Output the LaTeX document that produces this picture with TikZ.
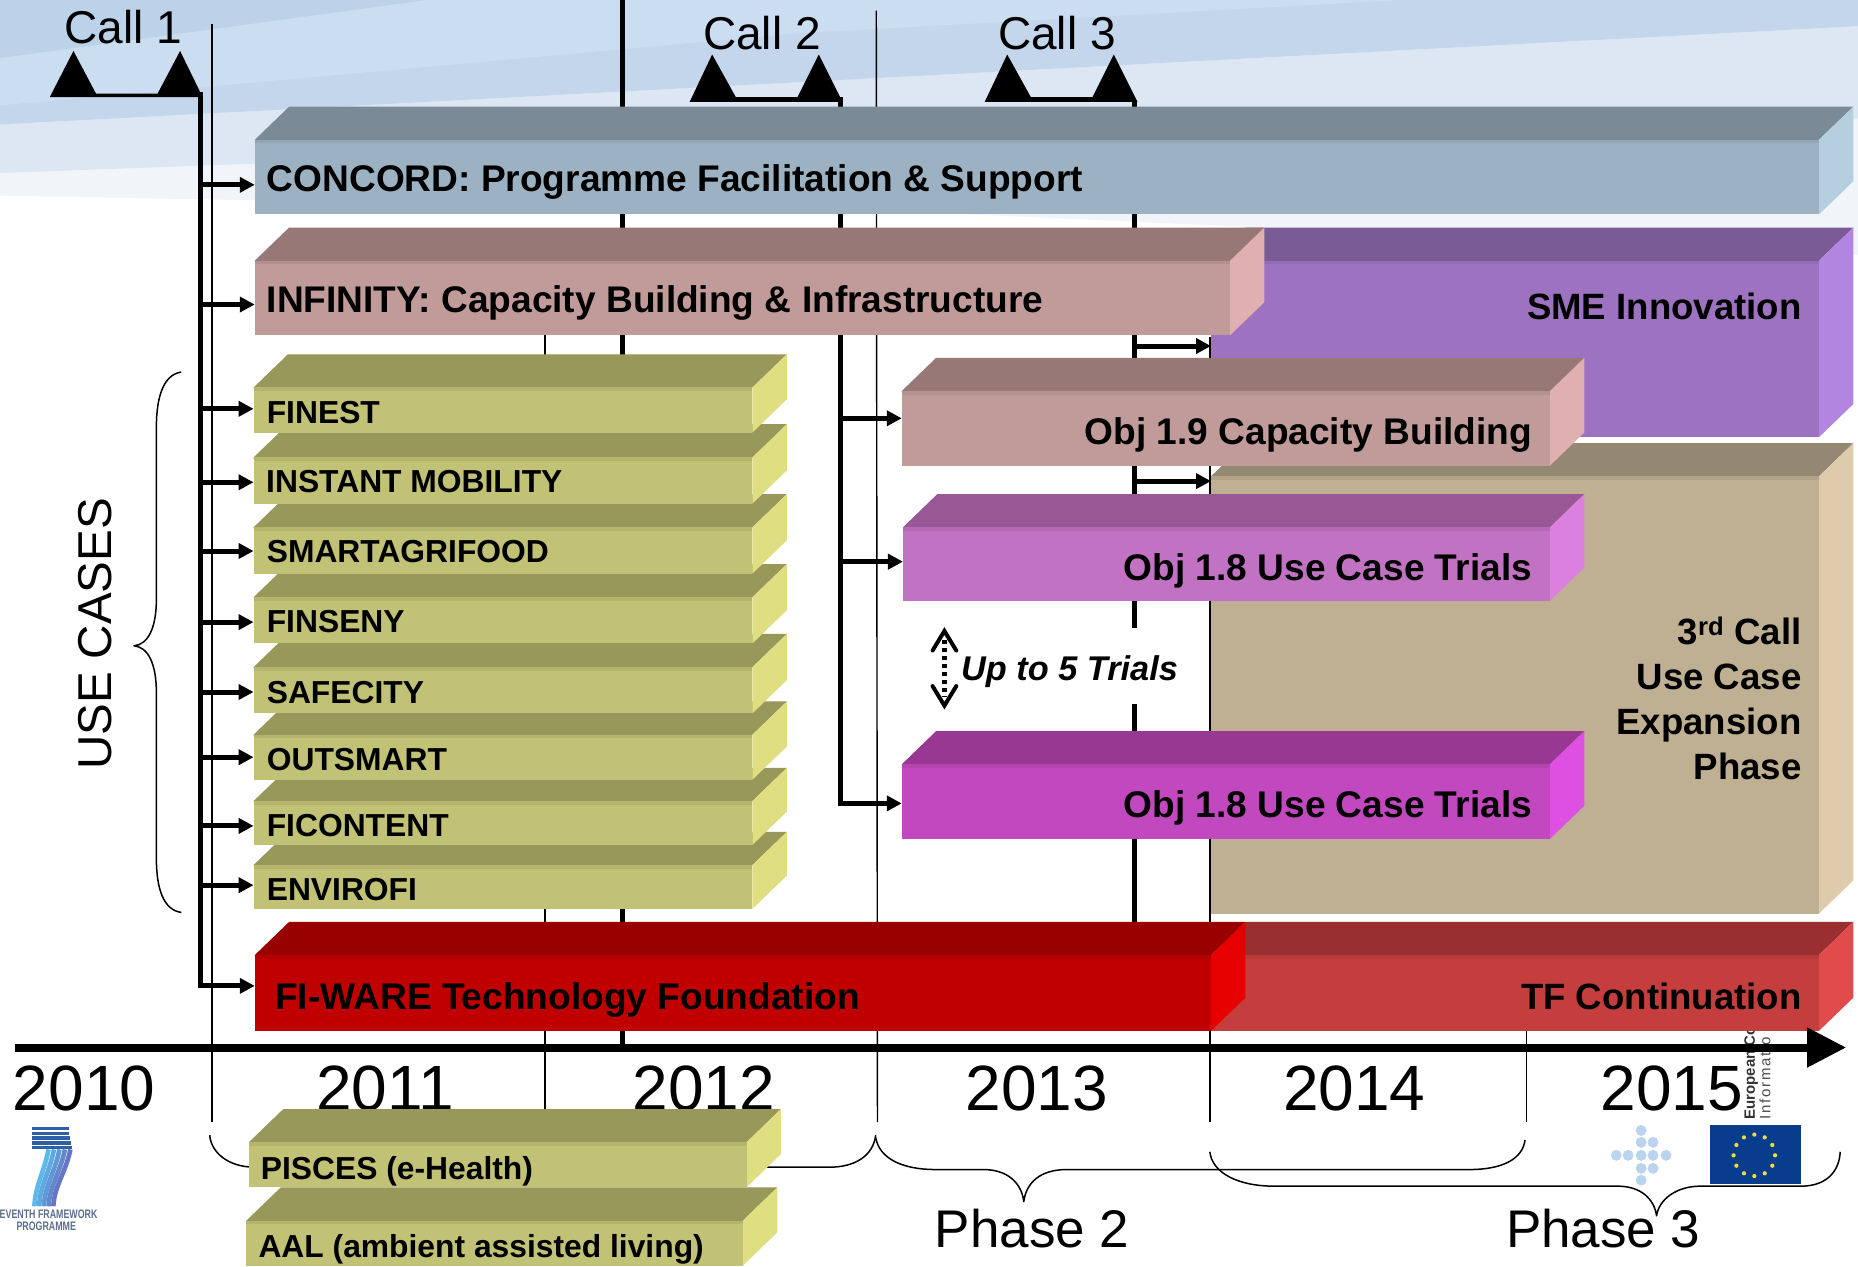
\documentclass[tikz,border=0pt]{standalone}
\usepackage{fontspec}
\setmainfont{Liberation Sans}
\usetikzlibrary{arrows.meta,fit,calc}
\definecolor{concF}{HTML}{9CB2C3}\definecolor{concT}{HTML}{7A8B97}\definecolor{concS}{HTML}{B5CFDF}
\definecolor{infF}{HTML}{C19B9A}\definecolor{infT}{HTML}{977877}\definecolor{infS}{HTML}{DFB0AF}
\definecolor{smeF}{HTML}{9D73C1}\definecolor{smeT}{HTML}{7A5B96}\definecolor{smeS}{HTML}{B285E0}
\definecolor{tanF}{HTML}{BFAF93}\definecolor{tanT}{HTML}{958872}\definecolor{tanS}{HTML}{DDCBAC}
\definecolor{taF}{HTML}{C272C3}\definecolor{taT}{HTML}{985895}\definecolor{taS}{HTML}{DC80E0}
\definecolor{tbF}{HTML}{C148BE}\definecolor{tbT}{HTML}{983892}\definecolor{tbS}{HTML}{DD50E2}
\definecolor{oliveF}{HTML}{C2C276}\definecolor{oliveT}{HTML}{98985A}\definecolor{oliveS}{HTML}{DFDF82}
\definecolor{fiF}{HTML}{C00000}\definecolor{fiT}{HTML}{990000}\definecolor{fiS}{HTML}{E60000}
\definecolor{tfF}{HTML}{C43E3E}\definecolor{tfT}{HTML}{9A2F2F}\definecolor{tfS}{HTML}{E24B4B}
\definecolor{fpdark}{HTML}{2F5FA8}
\definecolor{fptext}{HTML}{5C6E8E}
\newcommand{\solidbar}[6]{%
  \fill[#6T] (#2,#3+0.8) -- (#2,#3) -- (#2+29,#3-28) -- (#4+29,#3-28) -- (#4,#3) -- (#4,#3+0.8) -- cycle;
  \fill[#6S] (#4,#3) -- (#4+29,#3-28) -- (#4+29,#5-28) -- (#4,#5) -- cycle;
  \node[inner sep=0,outer sep=0,fill=#6F,fit={(#2,#3)(#4,#5)}] (#1) {};
  \fill[#6F!70!#6T] (#2,#3) rectangle (#4,#3+3);
}
\tikzset{
  thinl/.style={line width=1.4pt,black},
  thickl/.style={line width=5pt,black},
  arr/.style={line width=5pt,black,-{Triangle[length=15pt,width=15pt]}},
  brace/.style={line width=1.5pt,black,line join=round},
  big/.style={anchor=base west,inner sep=0,font=\fontsize{37.1}{40}\selectfont\bfseries},
  bigr/.style={anchor=base east,inner sep=0,font=\fontsize{36.6}{40}\selectfont\bfseries},
  objr/.style={anchor=base east,inner sep=0,font=\fontsize{37.1}{40}\selectfont\bfseries},
  olive/.style={anchor=base west,inner sep=0,font=\fontsize{31.8}{36}\selectfont\bfseries},
  callt/.style={anchor=base,inner sep=0,font=\fontsize{46}{50}\selectfont},
  year/.style={anchor=base,inner sep=0,font=\fontsize{64}{68}\selectfont},
  phaset/.style={anchor=base,inner sep=0,font=\fontsize{53}{56}\selectfont},
  fpt/.style={inner sep=0,font=\fontsize{9.5}{10}\selectfont\bfseries,text=fptext,yscale=1.3,xscale=.93,transform shape},
}
\begin{document}
\begin{tikzpicture}[x=1.18495pt,y=-1.18495pt]
\useasboundingbox (0,0) rectangle (1568,1069);
% sky
\fill[white] (0,0) rectangle (1568,1069);
\fill[color={rgb,255:red,241;green,245;blue,250}] (0,0) -- (1568,0) -- (1568,215) -- (800,180) -- (0,165) -- cycle;
\fill[color={rgb,255:red,221;green,231;blue,244}] (0,0) -- (1568,0) -- (1568,100) -- (300,135) -- (0,146) -- cycle;
\fill[color={rgb,255:red,195;green,214;blue,236}] (0,0) -- (1568,0) -- (1568,22) -- (0,105) -- cycle;
\fill[color={rgb,255:red,203;green,221;blue,240}] (0,0) -- (1183,0) -- (675,28) -- (0,89) -- cycle;
\fill[color={rgb,255:red,187;green,210;blue,233}] (0,0) -- (360,0) -- (0,49) -- cycle;
% year lines
\draw[thinl] (179,20) -- (179,947);
\draw[thinl] (460,250) -- (460,947);
\draw[thinl] (739.5,9) -- (740.5,947);
\draw[thinl] (1021,284) -- (1021,947);
\draw[thinl] (1288,860) -- (1288,947);
% call spines
\coordinate (spineA) at (169,80);
\coordinate (spineAe) at (169,832);
\coordinate (spineB) at (709,84);
\coordinate (spineBe) at (709,678);
\coordinate (spineC) at (957,84);
\draw[thickl] (525.5,0) -- (525.5,884);
\draw[thickl,line cap=rect] (spineA) -- (spineAe);
\draw[thickl,line cap=rect] (spineB) -- (spineBe);
\draw[thickl] (spineC) -- (957,530);
\draw[thickl] (957,594) -- (957,790);
% call markers
\fill (42,82) -- (62,43) -- (81,79) -- (133,79) -- (152,43) -- (171,82) -- cycle;
\fill (582,86) -- (601,46) -- (621,82) -- (673,82) -- (691,46) -- (711,86) -- cycle;
\fill (831,86) -- (850,46) -- (870,82) -- (922,82) -- (940,46) -- (960,86) -- cycle;
\node[callt] (call1) at (104,37) {Call 1};
\node[callt] (call2) at (643,42) {Call 2};
\node[callt] (call3) at (892,42) {Call 3};
% years
\node[year] (y10) at (71,937) {2010};
\node[year] (y11) at (325,937) {2011};
\node[year] (y12) at (594,937) {2012};
\node[year] (y13) at (875,937) {2013};
\node[year] (y14) at (1143,937) {2014};
\node[year] (y15) at (1411,937) {2015};
% braces
\draw[brace] (153,314) .. controls (138,316) and (132,335) .. (132,360) -- (132,505) .. controls (132,530) and (125,544) .. (113,545) .. controls (125,546) and (132,560) .. (132,585) -- (132,725) .. controls (132,750) and (138,768) .. (153,770);
\draw[brace] (177,958) .. controls (178,972) and (192,985) .. (215,985) -- (700,985) .. controls (722,985) and (737,975) .. (739,958);
\draw[brace] (739,960) .. controls (742,977) and (760,987) .. (790,987) -- (830,987) .. controls (850,987) and (862,998) .. (864,1014) .. controls (866,998) and (878,987) .. (900,987) -- (1240,987) .. controls (1268,987) and (1285,978) .. (1287,962);
\draw[brace] (1021,972) .. controls (1023,990) and (1045,1001) .. (1075,1001) -- (1365,1001) .. controls (1385,1001) and (1396,1012) .. (1398,1026) .. controls (1400,1012) and (1415,1001) .. (1435,1001) -- (1520,1001) .. controls (1540,1001) and (1552,990) .. (1553,972);
\node[phaset] (ph2) at (871,1053) {Phase 2};
\node[phaset] (ph3) at (1353,1053) {Phase 3};
\node[anchor=center,inner sep=0,rotate=90,font=\fontsize{47.5}{52}\selectfont] (uc) at (80,535) {USE CASES};
% FP7 logo
\foreach \i in {0,1,2,3,4}
  \fill[fpdark] (27,951+\i*4) rectangle (58+\i*0.6,954+\i*4);
\foreach \i/\c in {0/85,1/70,2/55,3/40,4/25}
  \draw[line width=4.6pt,color=cyan!\c!blue!65!white] (41+\i*4.6,970) .. controls (37+\i*4.6,990) and (30+\i*4,1000) .. (29+\i*4,1018);
\node[fpt] (fpa) at (41,1025) {EVENTH FRAMEWORK};
\node[fpt] (fpb) at (39,1035) {PROGRAMME};
% EU flag
\fill[color={rgb,255:red,8;green,60;blue,140}] (1443,949) rectangle (1520,999);
\foreach \a in {0,30,...,330}
  \fill[color={rgb,255:red,240;green,220;blue,60}] (1480.5,975) ++(\a:17.5) circle (1.8);
\foreach \x/\y in {1385/954,1385/964,1395/964,1364/975,1374/975,1385/975,1395/975,1406/975,1385/986,1395/986,1385/996}
  \fill[color={rgb,255:red,187;green,211;blue,236}] (\x,\y) circle (4.6);
\node[anchor=base west,inner sep=0,rotate=90,font=\fontsize{15}{16}\selectfont\bfseries,text=black!80] (eca) at (1481,945) {European Co};
\node[anchor=base west,inner sep=0,rotate=90,font=\fontsize{15}{16}\selectfont,text=black!70] (ecb) at (1494,945) {\addfontfeature{LetterSpace=12}Informatio};
% bars
\solidbar{sme}{1022}{220}{1535}{369}{sme}
\solidbar{tan}{1022}{402}{1535}{771}{tan}
\solidbar{infinity}{215}{220}{1038}{283}{inf}
\solidbar{concord}{215}{118}{1535}{181}{conc}
\solidbar{objnine}{761}{330}{1308}{393}{inf}
\solidbar{trialsa}{762}{445}{1308}{507}{ta}
\solidbar{trialsb}{761}{645}{1308}{708}{tb}
\solidbar{tfc}{1022}{806}{1535}{870}{tf}
\solidbar{fiware}{215}{806}{1022}{870}{fi}
\solidbar{envirofi}{214}{730}{635}{767}{olive}
\solidbar{ficontent}{214}{676}{635}{713}{olive}
\solidbar{outsmart}{214}{620}{635}{658}{olive}
\solidbar{safecity}{214}{563}{635}{602}{olive}
\solidbar{finseny}{214}{504}{635}{543}{olive}
\solidbar{smart}{214}{445}{635}{484}{olive}
\solidbar{instant}{214}{386}{635}{425}{olive}
\solidbar{finest}{214}{327}{635}{365}{olive}
\solidbar{aal}{208}{1030}{627}{1068}{olive}
\solidbar{pisces}{210}{964}{630}{1002}{olive}
% bar labels
\node[big] (tconcord) at (225,162) {CONCORD: Programme Facilitation \& Support};
\node[big] (tinfinity) at (225,264) {INFINITY: Capacity Building \& Infrastructure};
\node[bigr] (tsme) at (1520.5,270) {SME Innovation};
\node[objr] (tnine) at (1293,375) {Obj 1.9 Capacity Building};
\node[objr] (ttra) at (1293,490) {Obj 1.8 Use Case Trials};
\node[objr] (ttrb) at (1293,690) {Obj 1.8 Use Case Trials};
\node[big] (tfi) at (232,852) {FI-WARE Technology Foundation};
\node[bigr] (ttf) at (1520.5,852) {TF Continuation};
\node[bigr] (c3a) at (1520.5,544) {3\textsuperscript{rd} Call};
\node[bigr] (c3b) at (1520.5,582) {Use Case};
\node[bigr] (c3c) at (1520.5,620) {Expansion};
\node[bigr] (c3d) at (1520.5,658) {Phase};
\node[olive] (t1) at (225,357) {FINEST};
\node[olive] (t2) at (224.5,416) {INSTANT MOBILITY};
\node[olive] (t3) at (225,475) {SMARTAGRIFOOD};
\node[olive] (t4) at (225,534) {FINSENY};
\node[olive] (t5) at (225,594) {SAFECITY};
\node[olive] (t6) at (225,650) {OUTSMART};
\node[olive] (t7) at (225,706) {FICONTENT};
\node[olive] (t8) at (225,760) {ENVIROFI};
\node[olive] (t9) at (220,995) {PISCES (e-Health)};
\node[olive] (t10) at (218,1061) {AAL (ambient assisted living)};
\node[anchor=base west,inner sep=0,font=\fontsize{34.3}{38}\selectfont\bfseries\itshape] (upto) at (811,574) {Up to 5 Trials};
\coordinate (dtop) at (797,540);
\coordinate (dbot) at (797,588);
\draw[line width=5pt,dash pattern=on 4.5pt off 3.5pt] (dtop) -- (dbot);
\draw[line width=4pt,line join=miter,line cap=round] (787,549) -- (797,532.5) -- (807,549);
\draw[line width=4pt,line join=miter,line cap=round] (787,579) -- (797,595.5) -- (807,579);
% arrows
\foreach \t/\y in {concord/156,infinity/257,finest/345,instant/407,smart/465,finseny/525,safecity/584,outsmart/639,ficontent/697,envirofi/747,fiware/832}{
  \coordinate (a\t) at (0,\y);
  \draw[arr] (spineA |- a\t) -- (\t.west |- a\t);
}
\foreach \t/\y in {objnine/353,trialsa/474,trialsb/678}{
  \coordinate (a\t) at (0,\y);
  \draw[arr] (spineB |- a\t) -- (\t.west |- a\t);
}
\foreach \t/\y in {sme/292,tan/406}{
  \coordinate (a\t) at (0,\y);
  \draw[arr] (spineC |- a\t) -- (\t.west |- a\t);
}
% timeline
\coordinate (tl0) at (13,884);
\coordinate (tl1) at (1558,884);
\draw[line width=8pt,-{Triangle[length=39pt,width=38pt]}] (tl0) -- (tl1);
\end{tikzpicture}
\end{document}
